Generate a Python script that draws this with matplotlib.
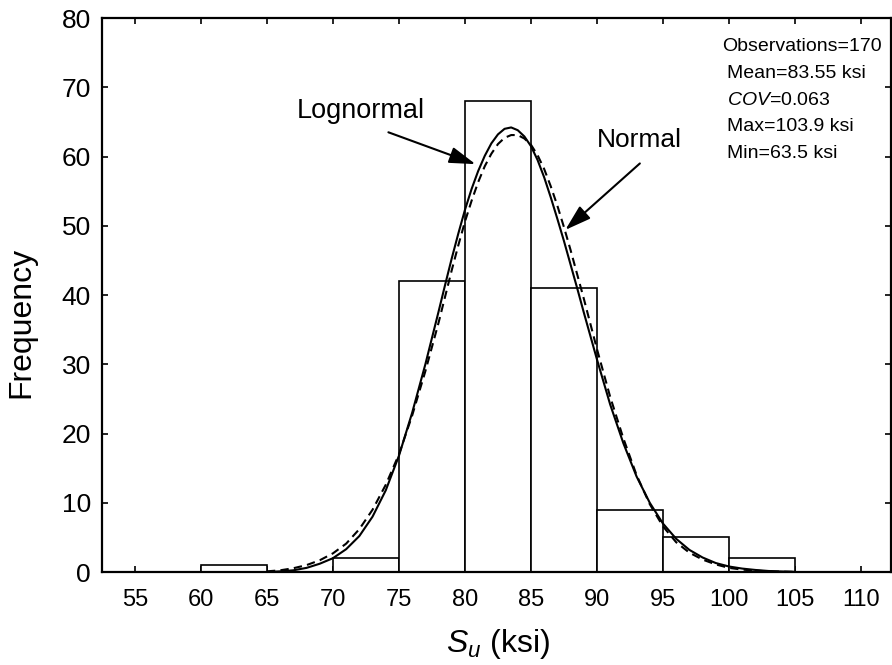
import matplotlib.pyplot as plt

plt.rcParams['font.family'] = ['Liberation Sans', 'DejaVu Sans']
plt.rcParams['mathtext.fontset'] = 'custom'
plt.rcParams['mathtext.rm'] = 'Liberation Sans'
plt.rcParams['mathtext.it'] = 'Liberation Sans:italic'

# histogram of S_u, 5 ksi bins
bin_left = [55, 60, 65, 70, 75, 80, 85, 90, 95, 100, 105]
counts = [0, 1, 0, 2, 42, 68, 41, 9, 5, 2, 0]

# fitted curves
x_fit = [65, 66, 67, 68, 69, 70, 71, 72, 73, 74, 75, 76, 77, 78, 78.5, 79, 79.5,
         80, 80.5, 81, 81.5, 82, 82.5, 83, 83.5, 84, 84.5, 85, 85.5, 86, 86.5,
         87, 87.5, 88, 88.5, 89, 90, 91, 92, 93, 94, 95, 96, 97, 98, 99, 100,
         101, 102, 103, 104, 105]
lognormal_y = [0.0, 0.1, 0.25, 0.6, 1.2, 2.0, 3.3, 5.2, 8.0, 11.8, 16.8, 23.0, 30.0,
               37.6, 41.5, 45.3, 48.9, 52.3, 55.3, 57.9, 60.1, 61.9, 63.2, 64.0, 64.2,
               63.8, 62.9, 61.5, 59.5, 57.0, 54.1, 51.0, 47.8, 44.4, 41.0, 37.5, 30.7,
               24.2, 18.6, 13.8, 10.0, 7.0, 4.8, 3.2, 2.1, 1.3, 0.8, 0.5, 0.3, 0.15,
               0.08, 0.03]
normal_y = [0.1, 0.25, 0.55, 1.0, 1.7, 2.7, 4.1, 6.2, 9.0, 12.6, 17.0, 22.6, 29.0,
            36.0, 39.8, 43.6, 47.2, 50.6, 53.6, 56.3, 58.6, 60.4, 61.8, 62.7, 63.1,
            63.1, 62.6, 61.7, 60.2, 58.2, 55.7, 52.9, 49.8, 46.5, 43.0, 39.5, 32.2,
            25.3, 19.3, 14.0, 9.8, 6.6, 4.3, 2.8, 1.8, 1.1, 0.6, 0.35, 0.2, 0.1,
            0.05, 0.02]

stats_lines = ['Observations=170', 'Mean=83.55 ksi', '$\\it{COV}$=0.063',
               'Max=103.9 ksi', 'Min=63.5 ksi']

fig = plt.figure(figsize=(8.92, 6.65), dpi=100)
ax = fig.add_axes([0.1143, 0.1398, 0.8845, 0.8331])

ax.bar(bin_left, counts, width=5, align='edge', facecolor='white',
       edgecolor='black', linewidth=1.2, zorder=2)
ax.plot(x_fit, lognormal_y, color='black', linewidth=1.5, zorder=3)
ax.plot(x_fit, normal_y, color='black', linewidth=1.5, dashes=(4, 2.5), zorder=3)

arrow = dict(arrowstyle='-|>,head_length=0.8,head_width=0.25', color='black',
             lw=1.5, mutation_scale=20, shrinkA=0, shrinkB=0)
ax.text(72.1, 66.6, 'Lognormal', fontsize=19.5, ha='center', va='center')
ax.annotate('', xy=(80.8, 58.9), xytext=(74.2, 63.5), arrowprops=arrow)
ax.text(93.2, 62.4, 'Normal', fontsize=19, ha='center', va='center')
ax.annotate('', xy=(87.6, 49.4), xytext=(93.25, 59.0), arrowprops=arrow)

for i, line in enumerate(stats_lines):
    xs = 99.45 if i == 0 else 99.83
    ax.text(xs, 75.85 - i * 3.85, line, fontsize=14, ha='left', va='center')

ax.set_xlim(52.5, 112.27)
ax.set_ylim(0, 80)
ax.set_xticks(bin_left + [110])
ax.set_yticks(range(0, 81, 10))
ax.tick_params(direction='in', top=True, right=True, length=4, width=1.2)
ax.tick_params(axis='x', labelsize=17, pad=12)
ax.tick_params(axis='y', labelsize=19, pad=8)
for s in ax.spines.values():
    s.set_linewidth(1.6)

ax.set_xlabel('$S_u$ (ksi)', fontsize=23)
ax.set_ylabel('Frequency', fontsize=23)
ax.xaxis.set_label_coords(0.502, -0.1)
ax.yaxis.set_label_coords(-0.083, 0.45)

fig.savefig('out.png', dpi=100)
